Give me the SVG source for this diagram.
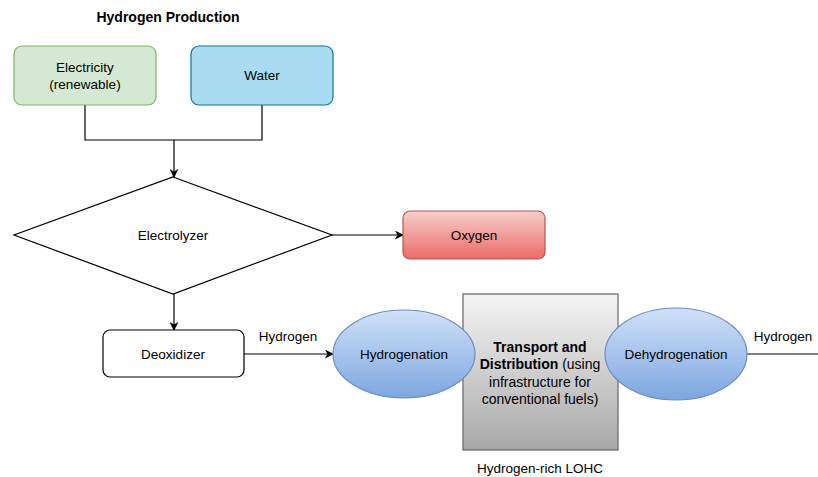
<svg xmlns="http://www.w3.org/2000/svg" width="818" height="477" viewBox="0 0 818 477">
<style>
text{font-family:"Liberation Sans",Arial,sans-serif;font-size:13.5px;fill:#000;text-anchor:middle;dominant-baseline:central}
.b{font-weight:bold}
.t{font-size:14px}
.edge{fill:none;stroke:#000;stroke-width:1.2}
</style>
<defs>
<marker id="arr" viewBox="0 0 10 10" refX="9" refY="5" markerWidth="9" markerHeight="9" markerUnits="userSpaceOnUse" orient="auto">
<path d="M0,0 L10,5 L0,10 L3,5 z" fill="#000"/>
</marker>
<linearGradient id="gRed" x1="0" y1="0" x2="0" y2="1"><stop offset="0" stop-color="#f8cecc"/><stop offset="1" stop-color="#ea6b66"/></linearGradient>
<linearGradient id="gBlue" x1="0" y1="0" x2="0" y2="1"><stop offset="0" stop-color="#cfe1f8"/><stop offset="1" stop-color="#7ea6e0"/></linearGradient>
<linearGradient id="gGray" x1="0" y1="0" x2="0" y2="1"><stop offset="0" stop-color="#f5f5f5"/><stop offset="1" stop-color="#a8a8a8"/></linearGradient>
</defs>
<rect width="818" height="477" fill="#fff"/>
<text id="title" class="b t" x="168" y="17">Hydrogen Production</text>
<g id="connectors">
<path class="edge" d="M85,105 V140 H262 V105"/>
<path class="edge" d="M174,140 V177" marker-end="url(#arr)"/>
<path class="edge" d="M332,235 H403" marker-end="url(#arr)"/>
<path class="edge" d="M174,294 V330" marker-end="url(#arr)"/>
<path class="edge" d="M244,354 H333" marker-end="url(#arr)"/>
<path class="edge" d="M747,354 H818"/>
<text x="288" y="336">Hydrogen</text>
<text x="783" y="336">Hydrogen</text>
</g>
<g id="electricity">
<rect x="14" y="46" width="142" height="59" rx="8" fill="#d5e8d4" stroke="#82b366" stroke-width="1.2"/>
<text x="85" y="67">Electricity</text>
<text x="85" y="84">(renewable)</text>
</g>
<g id="water">
<rect x="191" y="46" width="142" height="59" rx="8" fill="#a9dcf0" stroke="#10739e" stroke-width="1.2"/>
<text x="262" y="75">Water</text>
</g>
<g id="electrolyzer">
<path d="M173,177 L332,235 L173,294 L14,235 Z" fill="#fff" stroke="#000" stroke-width="1.2"/>
<text x="173" y="235">Electrolyzer</text>
</g>
<g id="oxygen">
<rect x="403" y="211" width="142" height="48" rx="7" fill="url(#gRed)" stroke="#b85450" stroke-width="1.2"/>
<text x="474" y="235">Oxygen</text>
</g>
<g id="deoxidizer">
<rect x="103" y="330" width="141" height="47" rx="7" fill="#fff" stroke="#000" stroke-width="1.2"/>
<text x="173" y="354">Deoxidizer</text>
</g>
<g id="transport">
<rect x="463" y="294" width="155" height="156" fill="url(#gGray)" stroke="#666666" stroke-width="1.2"/>
<text x="540" y="347" class="b t">Transport and</text>
<text x="540" y="364" class="t"><tspan class="b">Distribution</tspan> (using</text>
<text x="540" y="382" class="t">infrastructure for</text>
<text x="540" y="399" class="t">conventional fuels)</text>
<text x="540" y="468">Hydrogen-rich LOHC</text>
</g>
<g id="hydrogenation">
<ellipse cx="404" cy="354" rx="71" ry="44" fill="url(#gBlue)" stroke="#6c8ebf" stroke-width="1.2"/>
<text x="404" y="354">Hydrogenation</text>
</g>
<g id="dehydrogenation">
<ellipse cx="676" cy="354" rx="71" ry="46" fill="url(#gBlue)" stroke="#6c8ebf" stroke-width="1.2"/>
<text x="676" y="354">Dehydrogenation</text>
</g>
</svg>
